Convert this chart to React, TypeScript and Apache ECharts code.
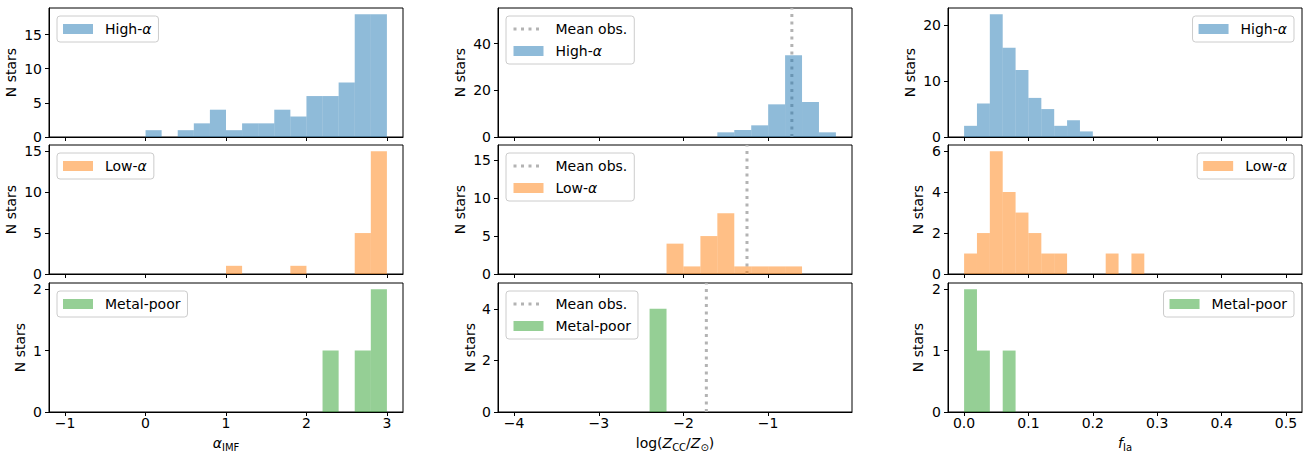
import React, { useEffect, useRef } from 'react';
import * as echarts from 'echarts';

const FONT = 'DejaVu Sans';

// Colours (matplotlib tab10 with alpha 0.5)
const BLUE = 'rgba(31,119,180,0.5)';
const ORANGE = 'rgba(255,127,14,0.5)';
const GREEN = 'rgba(44,160,44,0.5)';
const MEAN_COLOR = '#b3b3b3';

const groupNames = ['High-α', 'Low-α', 'Metal-poor'];
const groupColors = [BLUE, ORANGE, GREEN];

// Column 1: alpha_IMF histograms (bin width 0.2), bins listed by lower edge
const alphaBinWidth = 0.2;
const alphaHighBins = [0.0, 0.4, 0.6, 0.8, 1.0, 1.2, 1.4, 1.6, 1.8, 2.0, 2.2, 2.4, 2.6, 2.8];
const alphaHighCounts = [1, 1, 2, 4, 1, 2, 2, 4, 3, 6, 6, 8, 18, 18];
const alphaLowBins = [1.0, 1.8, 2.6, 2.8];
const alphaLowCounts = [1, 1, 5, 15];
const alphaPoorBins = [2.2, 2.6, 2.8];
const alphaPoorCounts = [1, 1, 2];

// Column 2: log(Z_CC/Z_sun) histograms (bin width 0.2)
const zccBinWidth = 0.2;
const zccHighBins = [-1.6, -1.4, -1.2, -1.0, -0.8, -0.6, -0.4];
const zccHighCounts = [2, 3, 5, 14, 35, 15, 2];
const zccLowBins = [-2.2, -2.0, -1.8, -1.6, -1.4, -1.2, -1.0, -0.8];
const zccLowCounts = [4, 1, 5, 8, 1, 1, 1, 1];
const zccPoorBins = [-2.4];
const zccPoorCounts = [4];
const meanObs = [-0.72, -1.25, -1.73];

// Column 3: f_Ia histograms (bin width 0.02)
const fiaBinWidth = 0.02;
const fiaHighBins = [0.0, 0.02, 0.04, 0.06, 0.08, 0.1, 0.12, 0.14, 0.16, 0.18];
const fiaHighCounts = [2, 6, 22, 16, 12, 7, 5, 2, 3, 1];
const fiaLowBins = [0.0, 0.02, 0.04, 0.06, 0.08, 0.1, 0.12, 0.14, 0.22, 0.26];
const fiaLowCounts = [1, 2, 6, 4, 3, 2, 1, 1, 1, 1];
const fiaPoorBins = [0.0, 0.02, 0.06];
const fiaPoorCounts = [2, 1, 1];

// Axis ticks
const alphaTicks = [-1, 0, 1, 2, 3];
const zccTicks = [-4, -3, -2, -1];
const fiaTicks = [0, 0.1, 0.2, 0.3, 0.4, 0.5];

const yTicks = [
  [[0, 5, 10, 15], [0, 20, 40], [0, 10, 20]],
  [[0, 5, 10, 15], [0, 5, 10, 15], [0, 2, 4, 6]],
  [[0, 1, 2], [0, 2, 4], [0, 1, 2]],
];
const yMax = [
  [18.9, 55.3, 23.1],
  [15.75, 17, 6.3],
  [2.1, 5, 2.1],
];

const binsByCol = [
  [alphaHighBins, alphaLowBins, alphaPoorBins],
  [zccHighBins, zccLowBins, zccPoorBins],
  [fiaHighBins, fiaLowBins, fiaPoorBins],
];
const countsByCol = [
  [alphaHighCounts, alphaLowCounts, alphaPoorCounts],
  [zccHighCounts, zccLowCounts, zccPoorCounts],
  [fiaHighCounts, fiaLowCounts, fiaPoorCounts],
];
const binWidths = [alphaBinWidth, zccBinWidth, fiaBinWidth];
const xTicks = [alphaTicks, zccTicks, fiaTicks];
const xMin = [-1.2, -4.19, -0.025];
const xMax = [3.2, -0.01, 0.525];

// layout
const colLeft = [49, 498, 948];
const rowTop = [8, 145, 283];
const gridW = 354;
const gridH = 129;
const yNameGap = [
  [31, 31, 31],
  [31, 31, 23],
  [22, 21, 23],
];

const minus = (v: number) => (v < 0 ? '\u2212' + String(Math.abs(v)) : String(v));
const xFormatters = [
  (v: number) => minus(v),
  (v: number) => minus(v),
  (v: number) => v.toFixed(1),
];

const subRich = {
  n: { fontSize: 14, fontFamily: FONT, color: '#000', lineHeight: 18 },
  i: { fontSize: 14, fontFamily: FONT, color: '#000', fontStyle: 'italic', lineHeight: 18 },
  s: { fontSize: 10, fontFamily: FONT, color: '#000', lineHeight: 10, verticalAlign: 'bottom' },
};
const xNames = [
  '{i|α}{s|IMF}',
  '{n|log(}{i|Z}{s|CC}{n|/}{i|Z}{s|⊙}{n|)}',
  '{i|f}{s|Ia}',
];

const legendRich = {
  n: { fontSize: 14, fontFamily: FONT, color: '#000', lineHeight: 16 },
  i: { fontSize: 14, fontFamily: FONT, color: '#000', fontStyle: 'italic', lineHeight: 16 },
};
const legendFormatter = (name: string) => {
  if (name.endsWith('α')) return '{n|' + name.slice(0, -1) + '}{i|α}';
  return '{n|' + name + '}';
};

function buildOption() {
  const grid: any[] = [];
  const xAxis: any[] = [];
  const yAxis: any[] = [];
  const series: any[] = [];
  const legend: any[] = [];

  for (let r = 0; r < 3; r++) {
    for (let c = 0; c < 3; c++) {
      const idx = r * 3 + c;
      grid.push({
        left: colLeft[c],
        top: rowTop[r],
        width: gridW,
        height: gridH,
        show: true,
        borderColor: '#000',
        borderWidth: 1,
        backgroundColor: 'transparent',
      });
      xAxis.push({
        type: 'value',
        gridIndex: idx,
        min: xMin[c],
        max: xMax[c],
        splitLine: { show: false },
        axisLine: { show: true, onZero: false, lineStyle: { color: '#000', width: 1 } },
        axisTick: { show: true, length: 4, lineStyle: { color: '#000' }, customValues: xTicks[c] },
        axisLabel: {
          show: r === 2,
          customValues: xTicks[c],
          formatter: xFormatters[c],
          fontSize: 14,
          fontFamily: FONT,
          color: '#000',
          margin: 4,
        },
        name: r === 2 ? xNames[c] : '',
        nameLocation: 'middle',
        nameGap: 22,
        nameTextStyle: { rich: subRich },
      });
      yAxis.push({
        type: 'value',
        gridIndex: idx,
        min: 0,
        max: yMax[r][c],
        splitLine: { show: false },
        axisLine: { show: true, onZero: false, lineStyle: { color: '#000', width: 1 } },
        axisTick: { show: true, length: 4, lineStyle: { color: '#000' }, customValues: yTicks[r][c] },
        axisLabel: {
          customValues: yTicks[r][c],
          fontSize: 14,
          fontFamily: FONT,
          color: '#000',
          margin: 7,
        },
        name: 'N stars',
        nameLocation: 'middle',
        nameGap: yNameGap[r][c],
        nameTextStyle: { fontSize: 14, fontFamily: FONT, color: '#000' },
      });

      const bw = binWidths[c];
      const color = groupColors[r];
      const bins = binsByCol[c][r];
      const counts = countsByCol[c][r];
      if (c === 1) {
        series.push({
          type: 'line',
          name: 'Mean obs.',
          xAxisIndex: idx,
          yAxisIndex: idx,
          data: [
            [meanObs[r], 0],
            [meanObs[r], yMax[r][c]],
          ],
          symbol: 'none',
          showSymbol: false,
          lineStyle: { color: MEAN_COLOR, width: 3, type: [3, 4.5] },
          itemStyle: { color: MEAN_COLOR },
          z: 1,
          silent: true,
        });
      }
      series.push({
        type: 'custom',
        name: groupNames[r],
        xAxisIndex: idx,
        yAxisIndex: idx,
        itemStyle: { color },
        encode: { x: 0, y: 1 },
        data: bins.map((b, i) => [b, counts[i]]),
        z: 3,
        renderItem: (params: any, api: any) => {
          const x0 = api.value(0);
          const n = api.value(1);
          const p0 = api.coord([x0, n]);
          const p1 = api.coord([x0 + bw, 0]);
          return {
            type: 'rect',
            shape: { x: p0[0], y: p0[1], width: p1[0] - p0[0], height: p1[1] - p0[1] },
            style: { fill: color },
          };
        },
      });

      const leg: any = {
        orient: 'vertical',
        top: rowTop[r] + 8,
        itemWidth: 30,
        itemHeight: 10,
        itemGap: 6,
        padding: [5, 7, 5, 6],
        borderColor: '#cccccc',
        borderWidth: 1,
        borderRadius: 3,
        backgroundColor: 'rgba(255,255,255,0.8)',
        selectedMode: false,
        formatter: legendFormatter,
        textStyle: { fontSize: 14, fontFamily: FONT, color: '#000', lineHeight: 16, padding: [0, 0, 0, 7], rich: legendRich },
        data:
          c === 1
            ? [
                {
                  name: 'Mean obs.',
                  itemStyle: { opacity: 0, color: 'rgba(0,0,0,0)', borderWidth: 0 },
                  lineStyle: { color: MEAN_COLOR, width: 3, type: [3, 4.5] },
                },
                { name: groupNames[r], icon: 'rect' },
              ]
            : [{ name: groupNames[r], icon: 'rect' }],
      };
      if (c === 2) leg.right = 1315 - (colLeft[c] + gridW) + 8;
      else leg.left = colLeft[c] + 8;
      legend.push(leg);
    }
  }

  return { animation: false, backgroundColor: '#fff', grid, xAxis, yAxis, series, legend };
}

export default function App() {
  const ref = useRef<HTMLDivElement>(null);
  useEffect(() => {
    const chart = echarts.init(ref.current!, null, { renderer: 'svg' });
    chart.setOption(buildOption() as any);
    return () => chart.dispose();
  }, []);
  return (
    <div
      ref={ref}
      style={{ position: 'fixed', left: 0, top: 0, width: 1315, height: 457, background: '#fff' }}
    />
  );
}
